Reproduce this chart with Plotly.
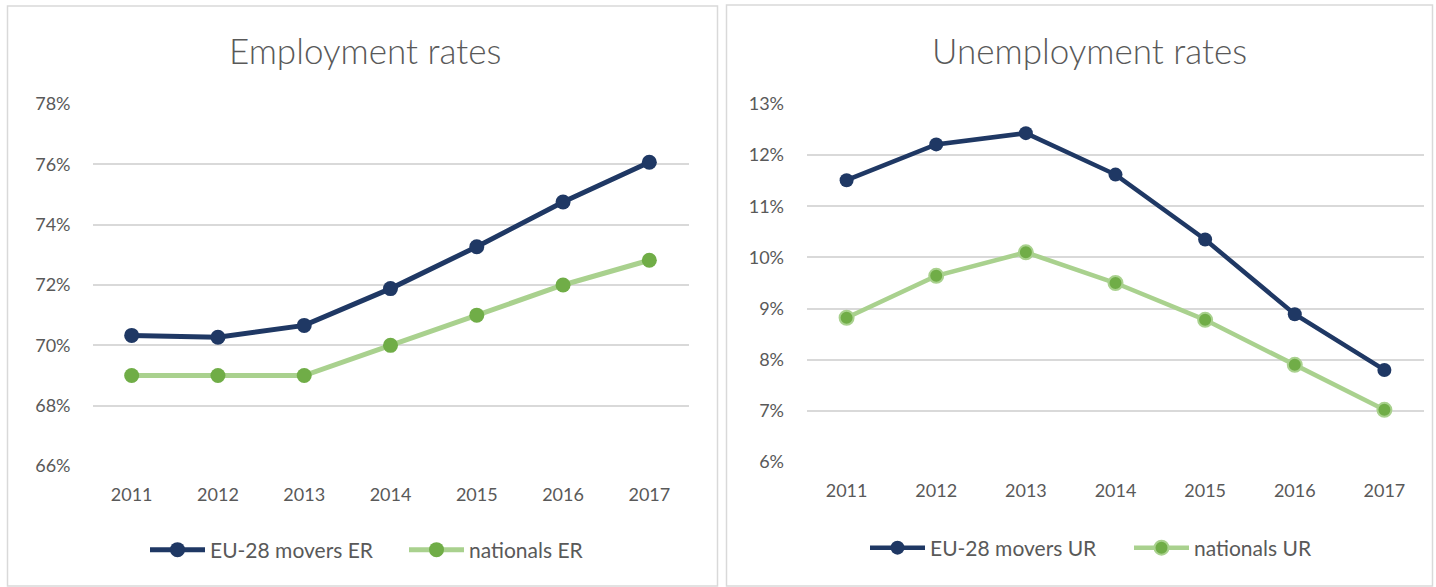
import plotly.graph_objects as go

years = ["2011", "2012", "2013", "2014", "2015", "2016", "2017"]
eu_er = [70.33, 70.27, 70.66, 71.88, 73.27, 74.75, 76.07]
nat_er = [69.0, 69.0, 69.0, 70.0, 71.0, 72.0, 72.82]
eu_ur = [11.51, 12.21, 12.43, 11.62, 10.35, 8.89, 7.80]
nat_ur = [8.82, 9.64, 10.10, 9.50, 8.78, 7.90, 7.02]

W, H = 1436, 587
NAVY = "#1f3864"
LGREEN = "#a9d18e"
GREEN = "#70ad47"
GRID = "#d9d9d9"
TXT = "#595959"
FONT = "Lato"

def px(x):
    return x / W

def py(y):
    return 1 - y / H

fig = go.Figure()

fig.add_trace(go.Scatter(x=years, y=eu_er, name="EU-28 movers ER", mode="lines+markers",
                         line=dict(color=NAVY, width=5), marker=dict(color=NAVY, size=15),
                         xaxis="x", yaxis="y", legend="legend"))
fig.add_trace(go.Scatter(x=years, y=nat_er, name="nationals ER", mode="lines+markers",
                         line=dict(color=LGREEN, width=5), marker=dict(color=GREEN, size=15),
                         xaxis="x", yaxis="y", legend="legend"))
fig.add_trace(go.Scatter(x=years, y=eu_ur, name="EU-28 movers UR", mode="lines+markers",
                         line=dict(color=NAVY, width=4.5), marker=dict(color=NAVY, size=14),
                         xaxis="x2", yaxis="y2", legend="legend2"))
fig.add_trace(go.Scatter(x=years, y=nat_ur, name="nationals UR", mode="lines+markers",
                         line=dict(color=LGREEN, width=4.5),
                         marker=dict(color=GREEN, size=14, line=dict(color=LGREEN, width=2)),
                         xaxis="x2", yaxis="y2", legend="legend2"))

axis_common = dict(showline=False, zeroline=False, tickfont=dict(family=FONT, size=18, color=TXT),
                   fixedrange=True, automargin=False)

legend_font = dict(family=FONT, size=21, color=TXT)

fig.update_layout(
    width=W, height=H, autosize=False,
    margin=dict(l=0, r=0, t=0, b=0, pad=0),
    paper_bgcolor="white", plot_bgcolor="white",
    font=dict(family=FONT, color=TXT),
    xaxis=dict(domain=[px(92.5), px(688.5)], anchor="y", showgrid=False,
               ticklabelstandoff=16, **axis_common),
    yaxis=dict(domain=[py(466), py(104)], anchor="x", range=[66, 78], dtick=2,
               ticksuffix="%", showgrid=True, gridcolor=GRID, gridwidth=1.5,
               ticklabelstandoff=21, **axis_common),
    xaxis2=dict(domain=[px(807), px(1424)], anchor="y2", showgrid=False,
                ticklabelstandoff=16, **axis_common),
    yaxis2=dict(domain=[py(462), py(104)], anchor="x2", range=[6, 13], dtick=1,
                ticksuffix="%", showgrid=True, gridcolor=GRID, gridwidth=1.5,
                ticklabelstandoff=22, **axis_common),
    legend=dict(orientation="h", x=px(145), y=py(550), xanchor="left", yanchor="middle",
                font=legend_font, bgcolor="rgba(0,0,0,0)",
                itemwidth=55, entrywidth=189, entrywidthmode="pixels"),
    legend2=dict(orientation="h", x=px(865), y=py(548), xanchor="left", yanchor="middle",
                 font=legend_font, bgcolor="rgba(0,0,0,0)",
                 itemwidth=55, entrywidth=194, entrywidthmode="pixels"),
    showlegend=True,
    shapes=[
        dict(type="rect", xref="paper", yref="paper", x0=px(7.5), x1=px(717.5), y0=py(586), y1=py(6),
             line=dict(color=GRID, width=1.5), layer="below"),
        dict(type="rect", xref="paper", yref="paper", x0=px(726.5), x1=px(1432.5), y0=py(586), y1=py(5),
             line=dict(color=GRID, width=1.5), layer="below"),
    ],
    annotations=[
        dict(text="Employment rates", xref="paper", yref="paper", x=px(365), y=py(50),
             xanchor="center", yanchor="middle", showarrow=False,
             font=dict(family=FONT, size=35, color=TXT, weight=300)),
        dict(text="Unemployment rates", xref="paper", yref="paper", x=px(1089), y=py(50),
             xanchor="center", yanchor="middle", showarrow=False,
             font=dict(family=FONT, size=35, color=TXT, weight=300)),
    ],
)

fig.write_html(
    "out.html",
    config={"displayModeBar": False},
    post_script="document.body.style.margin='0';document.body.style.overflow='hidden';",
)
